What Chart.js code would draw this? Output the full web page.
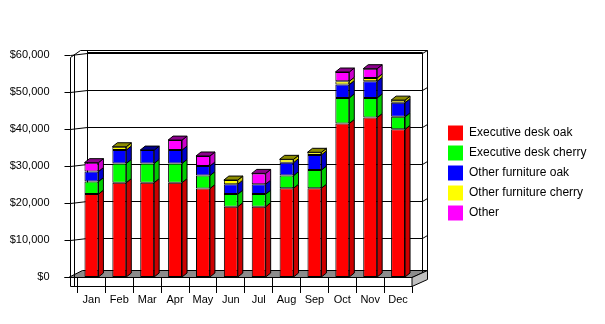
<!DOCTYPE html>
<html>
<head>
<meta charset="utf-8">
<script src="https://cdn.jsdelivr.net/npm/chart.js@4.4.0/dist/chart.umd.min.js"></script>
<style>
  html, body { margin: 0; padding: 0; background: #fff; }
</style>
</head>
<body>
<canvas id="myChart" width="605" height="324"></canvas>
<script>
const months = ['Jan', 'Feb', 'Mar', 'Apr', 'May', 'Jun', 'Jul', 'Aug', 'Sep', 'Oct', 'Nov', 'Dec'];
const deskOak = [22400, 25500, 25500, 25500, 23900, 19000, 19000, 24000, 24000, 41500, 43100, 39900];
const deskCherry = [3400, 5200, 5200, 5200, 3500, 3400, 3400, 3400, 4900, 6900, 5300, 3400];
const furnitureOak = [2700, 3600, 3600, 3600, 2600, 2700, 2700, 3500, 4100, 3600, 4500, 3800];
const furnitureCherry = [0, 900, 0, 0, 0, 1100, 0, 900, 700, 900, 900, 700];
const other = [2400, 0, 0, 2700, 2700, 0, 2900, 0, 0, 2500, 2500, 0];
const seriesNames = ['Executive desk oak', 'Executive desk cherry', 'Other furniture oak', 'Other furniture cherry', 'Other'];
const seriesColors = ['#ff0000', '#00ff00', '#0000ff', '#ffff00', '#ff00ff'];
const yTicks = [0, 10000, 20000, 30000, 40000, 50000, 60000];

const FONT = 'Liberation Sans, Arial, sans-serif';
const DX = 5;
const DY = -4;

const shade = (hex, f) => {
  const n = parseInt(hex.slice(1), 16);
  const r = Math.round(((n >> 16) & 255) * f);
  const g = Math.round(((n >> 8) & 255) * f);
  const b = Math.round((n & 255) * f);
  return `rgb(${r},${g},${b})`;
};

const line = (ctx, pts) => {
  ctx.beginPath();
  ctx.moveTo(pts[0][0], pts[0][1]);
  for (let i = 1; i < pts.length; i += 1) ctx.lineTo(pts[i][0], pts[i][1]);
  ctx.stroke();
};

const poly = (ctx, pts, fill) => {
  ctx.beginPath();
  ctx.moveTo(pts[0][0], pts[0][1]);
  for (let i = 1; i < pts.length; i += 1) ctx.lineTo(pts[i][0], pts[i][1]);
  ctx.closePath();
  ctx.fillStyle = fill;
  ctx.fill();
  ctx.stroke();
};

// walls, floor and gridlines of the 3d box
const frame3d = {
  id: 'frame3d',
  beforeDatasetsDraw(chart) {
    const { ctx, chartArea, scales: { y } } = chart;
    const L = chartArea.left;
    const R = chartArea.right;
    const B = Math.round(y.getPixelForValue(0)) + 0.5;
    const T = Math.round(y.getPixelForValue(60000)) + 0.5;
    const frontX = Math.round(L - 7.5) + 0.5;
    const sideX = Math.round(L - 3.5) + 0.5;
    const wallX = Math.round(L + 9.5) + 0.5;
    const wallR = Math.round(R + 10) + 0.5;
    const outerR = Math.round(R + 15) + 0.5;
    const topY = T - 5;
    ctx.save();
    ctx.lineWidth = 1;
    ctx.strokeStyle = '#000';

    yTicks.forEach((v) => {
      const yf = Math.round(y.getPixelForValue(v)) + 0.5;
      const yb = yf - 2;
      if (v > 0) {
        line(ctx, [[wallX, yb], [wallR, yb], [outerR, yb - 3]]);
      }
      line(ctx, [[frontX - 6, yf], [frontX, yf], [wallX, yb]]);
    });

    // floor
    poly(ctx, [[frontX - 2, B], [R, B], [outerR, B - 7], [wallX - 5, B - 7]], '#8c8c8c');
    poly(ctx, [[R, B], [R, B + 9], [outerR, B + 2], [outerR, B - 7]], '#c0c0c0');
    line(ctx, [[frontX - 6, B], [R, B]]);
    line(ctx, [[frontX, B + 9], [R, B + 9]]);

    // verticals
    line(ctx, [[frontX, T + 2], [frontX, B + 9]]);
    line(ctx, [[sideX, T - 1], [sideX, B + 9]]);
    line(ctx, [[wallX, topY], [wallX, B - 7]]);
    line(ctx, [[wallR, topY + 2], [wallR, B - 5]]);
    line(ctx, [[outerR, topY], [outerR, B - 7]]);

    // top edges
    line(ctx, [[frontX, T + 2], [wallX - 7, topY], [outerR, topY]]);
    line(ctx, [[wallX, topY + 2], [wallR, topY + 2]]);
    ctx.restore();
  },
};

// side and top faces of the bars
const barDepth = {
  id: 'barDepth',
  afterDatasetsDraw(chart) {
    const { ctx } = chart;
    const tops = [];
    ctx.save();
    ctx.lineWidth = 1;
    ctx.strokeStyle = '#000';
    chart.data.datasets.forEach((ds, i) => {
      const meta = chart.getDatasetMeta(i);
      meta.data.forEach((bar, j) => {
        if (!ds.data[j]) return;
        const { x, y, base, width } = bar.getProps(['x', 'y', 'base', 'width'], true);
        const x0 = x - width / 2;
        const x1 = x + width / 2;
        poly(ctx, [[x1, y], [x1 + DX, y + DY], [x1 + DX, base + DY], [x1, base]], shade(seriesColors[i], 0.8));
        tops[j] = { x0, x1, y, color: seriesColors[i] };
      });
    });
    tops.forEach((t) => {
      if (!t) return;
      poly(ctx, [[t.x0, t.y], [t.x1, t.y], [t.x1 + DX, t.y + DY], [t.x0 + DX, t.y + DY]], shade(t.color, 0.55));
    });
    ctx.restore();
  },
};

const seriesData = [deskOak, deskCherry, furnitureOak, furnitureCherry, other];

const chart = new Chart('myChart', {
  type: 'bar',
  data: {
    labels: months,
    datasets: seriesData.map((data, i) => ({
      label: seriesNames[i],
      data,
      backgroundColor: seriesColors[i],
      borderColor: '#000',
      borderWidth: 1,
      borderSkipped: false,
      barPercentage: 0.5,
      categoryPercentage: 1,
    })),
  },
  options: {
    responsive: false,
    animation: false,
    events: [],
    layout: { padding: { top: 55, left: 0, right: 12, bottom: 0 } },
    scales: {
      x: {
        stacked: true,
        offset: true,
        afterFit: (scale) => { scale.height = 47; },
        grid: {
          display: true,
          offset: true,
          drawOnChartArea: false,
          drawTicks: true,
          tickLength: 16,
          color: '#000',
        },
        border: { display: false },
        ticks: { color: '#000', padding: 0, font: { family: FONT, size: 11 } },
      },
      y: {
        stacked: true,
        min: 0,
        max: 60000,
        afterFit: (scale) => { scale.width = 77.5; },
        grid: { display: false },
        border: { display: false },
        ticks: {
          stepSize: 10000,
          padding: 20,
          color: '#000',
          font: { family: FONT, size: 11 },
          callback: (v) => '$' + Number(v).toLocaleString('en-US'),
        },
      },
      y2: {
        position: 'right',
        afterFit: (scale) => { scale.width = 31; },
        grid: { display: false },
        border: { display: false },
        ticks: { display: false },
      },
    },
    plugins: {
      tooltip: { enabled: false },
      legend: {
        position: 'right',
        fullSize: false,
        maxWidth: 150,
        title: { display: true, text: ' ', font: { size: 10 }, padding: { top: 0, bottom: 2 } },
        labels: {
          boxWidth: 15,
          boxHeight: 15,
          padding: 5,
          color: '#000',
          font: { family: FONT, size: 12 },
          generateLabels: (c) => Chart.defaults.plugins.legend.labels.generateLabels(c)
            .map((l) => ({ ...l, lineWidth: 0 })),
        },
      },
    },
  },
  plugins: [frame3d, barDepth],
});
</script>
</body>
</html>
